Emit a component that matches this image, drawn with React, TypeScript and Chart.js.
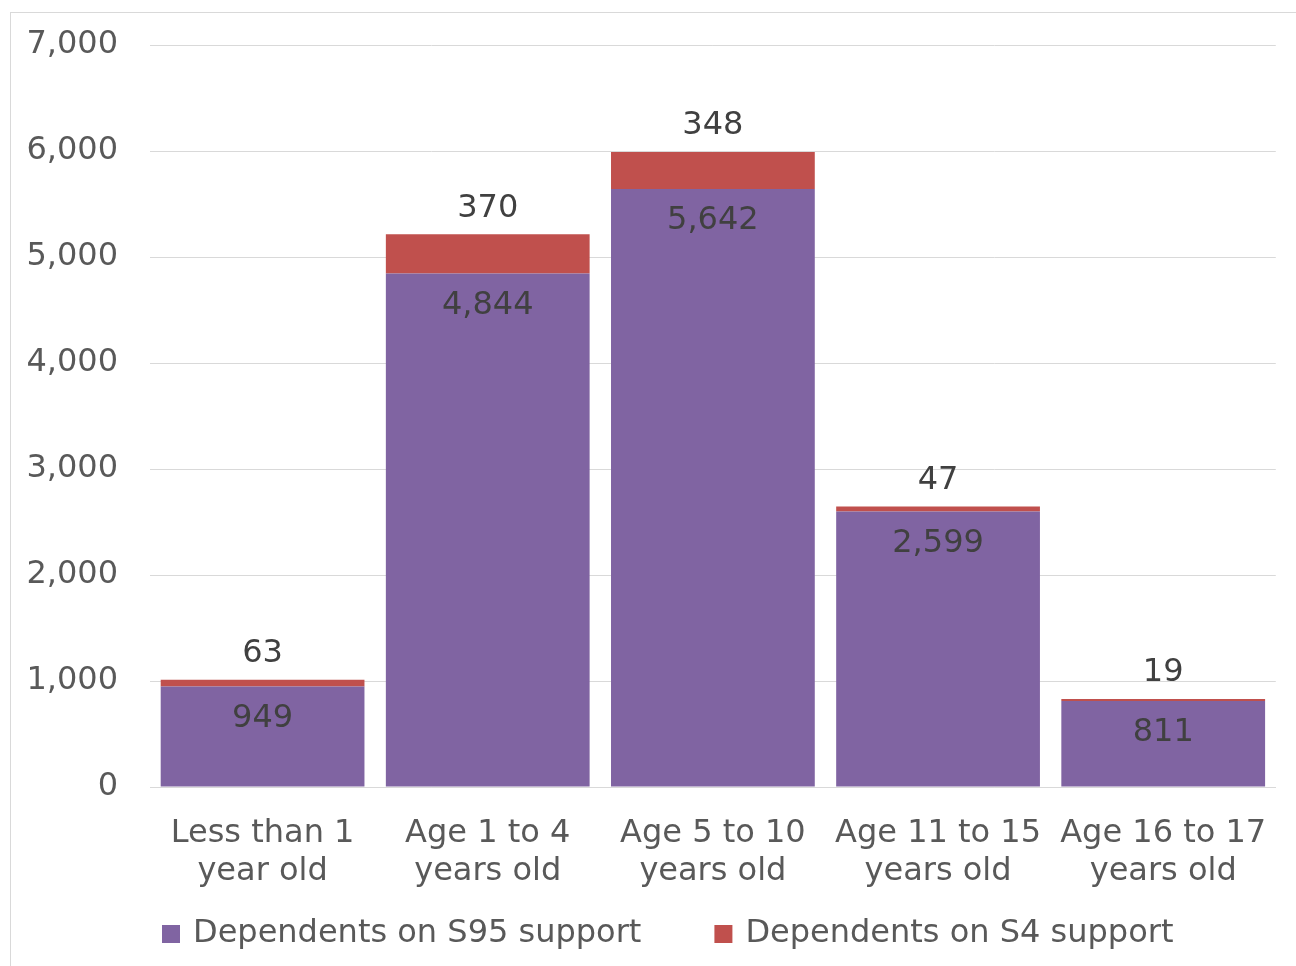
import React, { useEffect, useRef } from "react";
import { Chart, registerables } from "chart.js";

Chart.register(...registerables);

// Age bands on the x axis (two lines each)
const categories: string[][] = [
  ["Less than 1", "year old"],
  ["Age 1 to 4", "years old"],
  ["Age 5 to 10", "years old"],
  ["Age 11 to 15", "years old"],
  ["Age 16 to 17", "years old"],
];

const seriesNames = ["Dependents on S95 support", "Dependents on S4 support"];

const s95Values = [949, 4844, 5642, 2599, 811];
const s4Values = [63, 370, 348, 47, 19];

const yMin = 0;
const yMax = 7000;
const yStep = 1000;

const FONT = "'DejaVu Sans', Verdana, sans-serif";
const FONT_SIZE = 32;
const fmt = (v: number) => v.toLocaleString("en-US");

// Writes the S95 value inside the top of its bar and the S4 value above the stack
const valueLabels = {
  id: "valueLabels",
  afterDatasetsDraw(chart: any) {
    const ctx = chart.ctx;
    ctx.save();
    ctx.font = `${FONT_SIZE}px ${FONT}`;
    ctx.fillStyle = "#404040";
    ctx.textAlign = "center";
    ctx.textBaseline = "middle";
    const lower = chart.getDatasetMeta(0);
    const upper = chart.getDatasetMeta(1);
    lower.data.forEach((bar: any, i: number) => {
      ctx.fillText(fmt(s95Values[i]), bar.x, bar.y + 32);
    });
    upper.data.forEach((bar: any, i: number) => {
      ctx.fillText(fmt(s4Values[i]), bar.x, bar.y - 26);
    });
    ctx.restore();
  },
};

export default function App() {
  const canvasRef = useRef<HTMLCanvasElement | null>(null);

  useEffect(() => {
    if (!canvasRef.current) return;
    const chart = new Chart(canvasRef.current, {
      type: "bar",
      data: {
        labels: categories,
        datasets: [
          {
            label: seriesNames[0],
            data: s95Values,
            backgroundColor: "#8064A2",
            borderWidth: 0,
          },
          {
            label: seriesNames[1],
            data: s4Values,
            backgroundColor: "#C0504D",
            borderWidth: 0,
          },
        ],
      },
      options: {
        responsive: false,
        animation: false,
        layout: { padding: { left: 0, right: 18, top: 45, bottom: 6 } },
        datasets: {
          bar: { categoryPercentage: 1, barPercentage: 0.905 },
        },
        scales: {
          x: {
            stacked: true,
            grid: { display: false, drawTicks: false },
            border: { display: true, color: "#D9D9D9", width: 1 },
            ticks: {
              color: "#595959",
              font: { family: FONT, size: FONT_SIZE, lineHeight: 1.19 },
              padding: 28,
              maxRotation: 0,
              autoSkip: false,
            },
            afterFit(scale: any) {
              scale.height = 116;
            },
          },
          y: {
            stacked: true,
            min: yMin,
            max: yMax,
            grid: { color: "#D9D9D9", lineWidth: 1, drawTicks: false },
            border: { display: false },
            ticks: {
              stepSize: yStep,
              color: "#595959",
              font: { family: FONT, size: FONT_SIZE },
              padding: 32,
              callback: (v: any) => fmt(Number(v)),
            },
            afterFit(scale: any) {
              scale.width = 150;
              // the layout padding already leaves room for the end labels
              scale.paddingTop = 0;
              scale.paddingBottom = 0;
            },
          },
        },
        plugins: {
          tooltip: { enabled: false },
          legend: {
            position: "bottom",
            align: "start",
            fullSize: false,
            labels: {
              color: "#595959",
              font: { family: FONT, size: FONT_SIZE },
              usePointStyle: true,
              pointStyle: "rect",
              boxWidth: 12,
              boxHeight: 18,
              padding: 15,
              generateLabels(c: any) {
                const items = Chart.defaults.plugins.legend.labels.generateLabels(c);
                items.forEach((it: any) => {
                  it.pointStyle = "rect";
                  it.lineWidth = 0;
                });
                // extra room after the first entry keeps the two keys apart
                if (items[0]) items[0].text = items[0].text + "      ";
                return items;
              },
            },
          },
        },
      },
      plugins: [valueLabels],
    } as any);
    return () => chart.destroy();
  }, []);

  return (
    <div
      style={{
        position: "fixed",
        left: 0,
        top: 0,
        width: 1296,
        height: 966,
        overflow: "hidden",
        background: "#ffffff",
      }}
    >
      <div
        style={{
          position: "absolute",
          left: 10,
          top: 12,
          width: 1400,
          height: 1100,
          border: "1px solid #D9D9D9",
        }}
      />
      <canvas
        ref={canvasRef}
        width={1296}
        height={966}
        style={{ position: "absolute", left: 0, top: 0, width: 1296, height: 966 }}
      />
    </div>
  );
}
